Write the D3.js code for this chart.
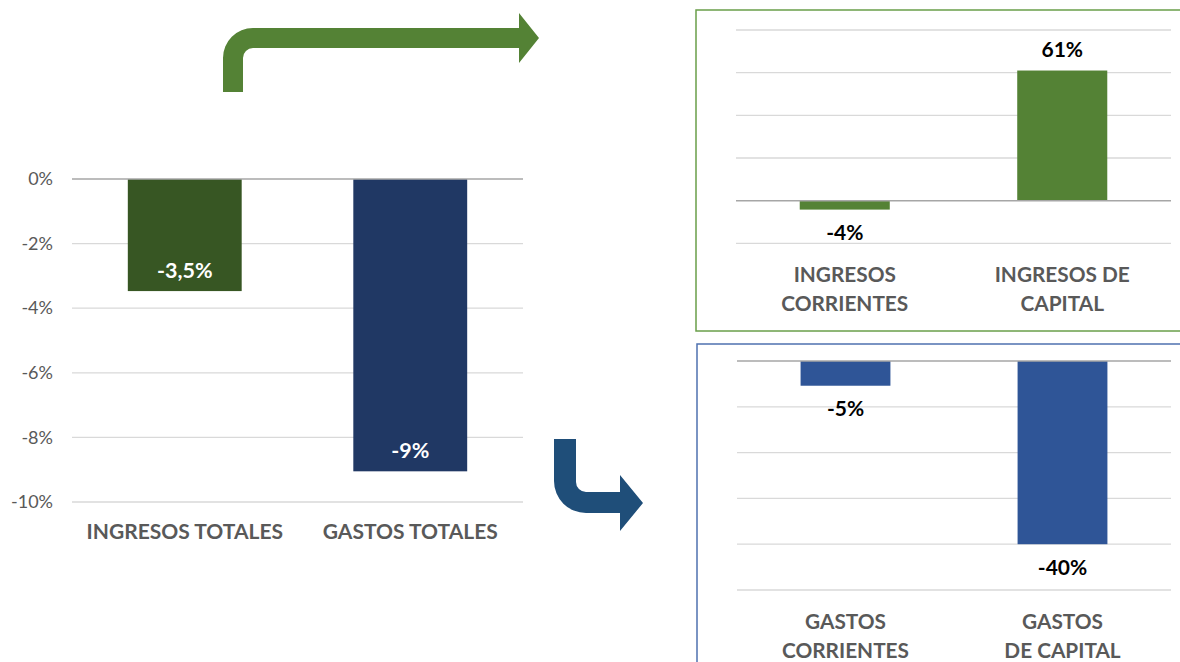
<!DOCTYPE html>
<html><head><meta charset="utf-8">
<script src="https://cdn.jsdelivr.net/npm/d3@7"></script>
<style>
html,body{margin:0;padding:0;background:#fff;}
svg{display:block;font-family:Lato,"Open Sans",sans-serif;}
</style></head>
<body>
<svg id="c" width="1180" height="662"></svg>
<script>
// ---- data ----
const totalCategories = ["INGRESOS TOTALES", "GASTOS TOTALES"];
const totalValues = [-3.47, -9.05];
const totalLabels = ["-3,5%", "-9%"];
const totalTicks = [0, -2, -4, -6, -8, -10];

const ingresosCategories = [["INGRESOS", "CORRIENTES"], ["INGRESOS DE", "CAPITAL"]];
const ingresosValues = [-4.2, 61];
const ingresosLabels = ["-4%", "61%"];
const ingresosGrid = [80, 60, 40, 20, 0, -20];

const gastosCategories = [["GASTOS", "CORRIENTES"], ["GASTOS", "DE CAPITAL"]];
const gastosValues = [-5.4, -40];
const gastosLabels = ["-5%", "-40%"];
const gastosGrid = [0, -10, -20, -30, -40, -50];

const svg = d3.select("#c");
const gridColor = "#D9D9D9", zeroColor = "#A6A6A6", catColor = "#595959";

// ---- left chart ----
(function(){
  const x = d3.scaleBand().domain(totalCategories).range([72, 523]);
  const y = d3.scaleLinear().domain([-10, 0]).range([502, 179]);
  const bw = x.bandwidth() * 0.505;
  const colors = ["#375623", "#203864"];
  const g = svg.append("g");
  g.selectAll("line.grid").data(totalTicks.filter(d => d !== 0)).join("line")
    .attr("x1", 72).attr("x2", 523).attr("y1", d => y(d)).attr("y2", d => y(d))
    .attr("stroke", gridColor).attr("stroke-width", 1.3);
  const yAxis = d3.axisLeft(y).tickValues(totalTicks).tickSize(0).tickPadding(0)
    .tickFormat(d => d + "%");
  const ax = g.append("g").attr("transform", "translate(53,0)").call(yAxis);
  ax.select(".domain").remove();
  ax.selectAll("text").attr("fill", "#595959").style("font-size", "18px")
    .style("font-family", "Lato,'Open Sans',sans-serif");
  g.selectAll("rect").data(totalValues).join("rect")
    .attr("x", (d, i) => x(totalCategories[i]) + (x.bandwidth() - bw) / 2)
    .attr("width", bw)
    .attr("y", y(0)).attr("height", d => y(d) - y(0))
    .attr("fill", (d, i) => colors[i]);
  g.append("line").attr("x1", 72).attr("x2", 523).attr("y1", y(0)).attr("y2", y(0))
    .attr("stroke", zeroColor).attr("stroke-width", 1.5);
  g.selectAll("text.lbl").data(totalValues).join("text").attr("class", "lbl")
    .attr("x", (d, i) => x(totalCategories[i]) + x.bandwidth() / 2)
    .attr("y", d => y(d) - 21)
    .attr("dy", "0.35em")
    .attr("text-anchor", "middle").attr("fill", "#fff")
    .style("font-weight", "bold").style("font-size", "21.5px")
    .text((d, i) => totalLabels[i]);
  g.selectAll("text.cat").data(totalCategories).join("text").attr("class", "cat")
    .attr("x", d => x(d) + x.bandwidth() / 2).attr("y", 532).attr("dy", "0.35em")
    .attr("text-anchor", "middle").attr("fill", catColor)
    .style("font-weight", "bold").style("font-size", "21px")
    .text(d => d);
})();

// ---- panel helper ----
function panel(opts){
  const g = svg.append("g");
  g.append("rect").attr("x", opts.box[0]).attr("y", opts.box[1])
    .attr("width", opts.box[2]).attr("height", opts.box[3])
    .attr("fill", "none").attr("stroke", opts.border).attr("stroke-width", 1.5);
  const keys = opts.cats.map(c => c.join(" "));
  const x = d3.scaleBand().domain(keys).range(opts.xr);
  const y = d3.scaleLinear().domain(opts.domain).range(opts.yr);
  const bw = x.bandwidth() * 0.414;
  g.selectAll("line.grid").data(opts.grid.filter(d => d !== 0)).join("line")
    .attr("x1", opts.xr[0]).attr("x2", opts.xr[1]).attr("y1", d => y(d)).attr("y2", d => y(d))
    .attr("stroke", gridColor).attr("stroke-width", 1.3);
  g.selectAll("rect.bar").data(opts.values).join("rect").attr("class", "bar")
    .attr("x", (d, i) => x(keys[i]) + (x.bandwidth() - bw) / 2)
    .attr("width", bw)
    .attr("y", d => Math.min(y(d), y(0)))
    .attr("height", d => Math.abs(y(d) - y(0)))
    .attr("fill", opts.color);
  g.append("line").attr("x1", opts.xr[0]).attr("x2", opts.xr[1]).attr("y1", y(0)).attr("y2", y(0))
    .attr("stroke", zeroColor).attr("stroke-width", 1.5);
  g.selectAll("text.lbl").data(opts.values).join("text").attr("class", "lbl")
    .attr("x", (d, i) => x(keys[i]) + x.bandwidth() / 2)
    .attr("y", d => d >= 0 ? y(d) - 21 : y(d) + 23)
    .attr("dy", "0.35em")
    .attr("text-anchor", "middle").attr("fill", "#000")
    .style("font-weight", "bold").style("font-size", "21px")
    .text((d, i) => opts.labels[i]);
  opts.cats.forEach((c, i) => {
    c.forEach((line, j) => {
      g.append("text")
        .attr("x", x(keys[i]) + x.bandwidth() / 2)
        .attr("y", opts.catY + j * 28.5).attr("dy", "0.35em")
        .attr("text-anchor", "middle").attr("fill", catColor)
        .style("font-weight", "bold").style("font-size", "20.8px")
        .text(line);
    });
  });
}

panel({
  box: [696, 10, 500, 321], border: "#6A9F4A",
  cats: ingresosCategories, values: ingresosValues, labels: ingresosLabels,
  grid: ingresosGrid, domain: [-20, 80], xr: [736, 1171], yr: [243.3, 30],
  color: "#548235", catY: 275
});
panel({
  box: [697, 344, 500, 340], border: "#4F72B0",
  cats: gastosCategories, values: gastosValues, labels: gastosLabels,
  grid: gastosGrid, domain: [-50, 0], xr: [737, 1171], yr: [590, 361],
  color: "#2F5597", catY: 622
});

// ---- arrows ----
svg.append("path")
  .attr("d", "M223,92 L223,58 A30,30 0 0 1 253,28 L519,28 L519,13 L539,38 L519,63 L519,48 L253,48 A10,10 0 0 0 243,58 L243,92 Z")
  .attr("fill", "#548235");
svg.append("path")
  .attr("d", "M554,439 L554,481 A32,32 0 0 0 586,513 L620,513 L620,531 L643,503 L620,475 L620,492 L586,492 A10,10 0 0 1 576,482 L576,439 Z")
  .attr("fill", "#1F4E79");
</script>
</body></html>
